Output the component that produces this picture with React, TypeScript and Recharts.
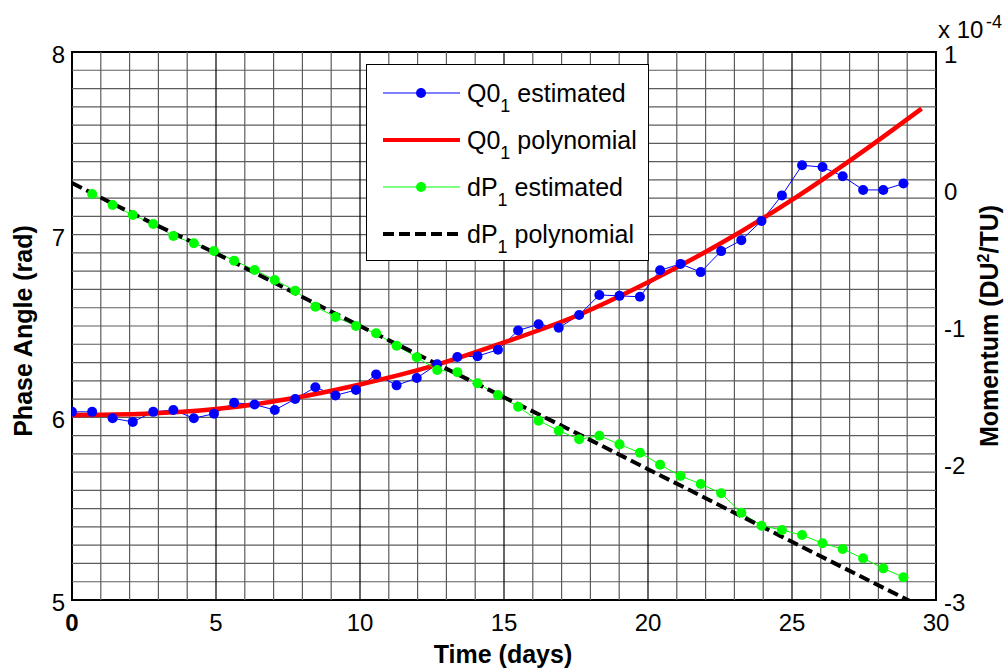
import React from 'react';
import {
  LineChart,
  Line,
  XAxis,
  YAxis,
  ReferenceLine,
  ReferenceArea,
} from 'recharts';

// Q0_1 / dP_1 estimation vs polynomial fit, MATLAB plotyy look

const FONT = '"Liberation Sans", Arial, sans-serif';

// sample days of the estimated points
const estDays = [
  0, 0.7, 1.41, 2.11, 2.82, 3.52, 4.23, 4.93, 5.63, 6.34,
  7.04, 7.75, 8.45, 9.15, 9.86, 10.56, 11.27, 11.97, 12.68, 13.38,
  14.08, 14.79, 15.49, 16.2, 16.9, 17.61, 18.31, 19.01, 19.72, 20.42,
  21.13, 21.83, 22.54, 23.24, 23.94, 24.65, 25.35, 26.06, 26.76, 27.47,
  28.17, 28.87,
];

// phase angle (rad), left axis
const q0Estimated = [
  6.03, 6.03, 5.995, 5.975, 6.03, 6.04, 5.995, 6.02, 6.08, 6.07,
  6.04, 6.1, 6.165, 6.12, 6.15, 6.235, 6.175, 6.215, 6.29, 6.33,
  6.335, 6.37, 6.475, 6.51, 6.49, 6.56, 6.67, 6.665, 6.66, 6.805,
  6.84, 6.795, 6.91, 6.97, 7.075, 7.215, 7.38, 7.37, 7.32, 7.245,
  7.245, 7.28,
];

// momentum in units of 1e-4 DU^2/TU, right axis
const dp1Estimated = [
  null, -0.036, -0.117, -0.19, -0.255, -0.343, -0.396, -0.453, -0.523, -0.591,
  -0.664, -0.742, -0.859, -0.934, -1.0, -1.053, -1.144, -1.228, -1.321, -1.338,
  -1.418, -1.504, -1.589, -1.691, -1.764, -1.827, -1.801, -1.864, -1.925, -2.012,
  -2.095, -2.153, -2.221, -2.363, -2.458, -2.489, -2.526, -2.586, -2.628, -2.696,
  -2.769, -2.834,
];

const polyDays = [0, 2.5, 5, 7.5, 10, 12.5, 15, 17.5, 20, 22.5, 25, 27.5, 29.5];
const q0Poly = [6.013, 6.02, 6.045, 6.1, 6.18, 6.28, 6.41, 6.555, 6.74, 6.95, 7.19, 7.46, 7.69];
const dp1Poly = [0.044, -0.22, -0.47, -0.735, -1.0, -1.26, -1.52, -1.78, -2.045, -2.31, -2.575, -2.84, -3.05];

const xTicks = [0, 5, 10, 15, 20, 25, 30];
const leftTicks = [5, 6, 7, 8];
const rightTicks = [-3, -2, -1, 0, 1];
const gridDays = [
  1, 2, 3, 4, 6, 7, 8, 9, 11, 12, 13, 14, 16, 17, 18, 19, 21, 22, 23, 24, 26, 27, 28, 29,
];
const majorDays = [5, 10, 15, 20, 25];
const gridPhase = [
  5.1, 5.2, 5.3, 5.4, 5.5, 5.6, 5.7, 5.8, 5.9, 6.0,
  6.1, 6.2, 6.3, 6.4, 6.5, 6.6, 6.7, 6.8, 6.9, 7.0,
  7.1, 7.2, 7.3, 7.4, 7.5, 7.6, 7.7, 7.8, 7.9,
];

const legendItems = [
  { name: 'Q0', tail: ' estimated', color: '#0000ff', width: 1, dash: undefined, dot: true },
  { name: 'Q0', tail: ' polynomial', color: '#ff0000', width: 4, dash: undefined, dot: false },
  { name: 'dP', tail: ' estimated', color: '#00ff00', width: 1, dash: undefined, dot: true },
  { name: 'dP', tail: ' polynomial', color: '#000000', width: 4, dash: '11 5', dot: false },
];

const q0EstData = estDays.map((x, i) => ({ x, v: q0Estimated[i] }));
const dp1EstData = estDays
  .map((x, i) => ({ x, v: dp1Estimated[i] }))
  .filter((p) => p.v !== null);
const q0PolyData = polyDays.map((x, i) => ({ x, v: q0Poly[i] }));
const dp1PolyData = polyDays.map((x, i) => ({ x, v: dp1Poly[i] }));

const GRID = '#5c5c5c';

function XTick({ x, y, payload }: any) {
  return (
    <text
      x={x}
      y={y + 31}
      textAnchor="middle"
      fontSize={24}
      fontFamily={FONT}
      fontWeight={payload.value === 0 ? 'bold' : 'normal'}
      fill="#000"
    >
      {payload.value}
    </text>
  );
}

function LeftTick({ x, y, payload }: any) {
  return (
    <text x={x - 7} y={y + 11} textAnchor="end" fontSize={24} fontFamily={FONT} fill="#000">
      {payload.value}
    </text>
  );
}

function RightTick({ x, y, payload }: any) {
  return (
    <text x={x + 8} y={y + 11} textAnchor="start" fontSize={24} fontFamily={FONT} fill="#000">
      {payload.value}
    </text>
  );
}

function LegendBox() {
  return (
    <div
      style={{
        position: 'absolute',
        left: 366,
        top: 64,
        width: 281,
        height: 195,
        background: '#fff',
        border: '1.5px solid #000',
      }}
    >
      <svg width={281} height={195}>
        {legendItems.map((it, i) => {
          const cy = 28 + i * 47;
          return (
            <g key={i}>
              <line
                x1={16}
                x2={93}
                y1={cy}
                y2={cy}
                stroke={it.color}
                strokeWidth={it.width}
                strokeDasharray={it.dash}
              />
              {it.dot && <circle cx={54} cy={cy} r={5} fill={it.color} />}
              <text x={100} y={cy + 9} fontSize={25} fontFamily={FONT} fill="#000">
                {it.name}
                <tspan dy={10} fontSize={18}>1</tspan>
                <tspan dy={-10}>{it.tail}</tspan>
              </text>
            </g>
          );
        })}
      </svg>
    </div>
  );
}

const titleStyle: React.CSSProperties = {
  position: 'absolute',
  fontFamily: FONT,
  fontWeight: 'bold',
  fontSize: 25,
  lineHeight: 1,
  whiteSpace: 'nowrap',
  color: '#000',
};

export default function App() {
  return (
    <div style={{ position: 'relative', width: 1007, height: 670, overflow: 'hidden', background: '#fff' }}>
      <style>{'body { margin: 0; }'}</style>
      <LineChart
        width={1007}
        height={670}
        margin={{ top: 52, right: 21, bottom: 30, left: 22 }}
      >
        <XAxis
          dataKey="x"
          type="number"
          domain={[0, 30]}
          ticks={xTicks}
          allowDataOverflow
          height={40}
          tickSize={0}
          tickMargin={0}
          axisLine={false}
          tick={<XTick />}
        />
        <YAxis
          yAxisId="left"
          domain={[5, 8]}
          ticks={leftTicks}
          allowDataOverflow
          width={50}
          tickSize={0}
          tickMargin={0}
          axisLine={false}
          tick={<LeftTick />}
        />
        <YAxis
          yAxisId="right"
          orientation="right"
          domain={[-3, 1]}
          ticks={rightTicks}
          allowDataOverflow
          width={50}
          tickSize={0}
          tickMargin={0}
          axisLine={false}
          tick={<RightTick />}
        />
        {gridPhase.map((v) => (
          <ReferenceLine key={'h' + v} yAxisId="left" y={v} stroke={GRID} strokeWidth={1.2} />
        ))}
        {gridDays.map((d) => (
          <ReferenceLine key={'v' + d} yAxisId="left" x={d} stroke={GRID} strokeWidth={1.2} />
        ))}
        {majorDays.map((d) => (
          <ReferenceLine key={'m' + d} yAxisId="left" x={d} stroke="#000" strokeWidth={1.2} />
        ))}
        <Line
          yAxisId="left"
          data={q0EstData}
          dataKey="v"
          type="linear"
          stroke="#0000ff"
          strokeWidth={1}
          dot={{ r: 5, fill: '#0000ff', stroke: '#0000ff', strokeWidth: 0 }}
          isAnimationActive={false}
        />
        <Line
          yAxisId="left"
          data={q0PolyData}
          dataKey="v"
          type="monotone"
          stroke="#ff0000"
          strokeWidth={4.5}
          dot={false}
          isAnimationActive={false}
        />
        <Line
          yAxisId="right"
          data={dp1EstData}
          dataKey="v"
          type="linear"
          stroke="#00ff00"
          strokeWidth={1}
          dot={{ r: 5, fill: '#00ff00', stroke: '#00ff00', strokeWidth: 0 }}
          isAnimationActive={false}
        />
        <Line
          yAxisId="right"
          data={dp1PolyData}
          dataKey="v"
          type="monotone"
          stroke="#000"
          strokeWidth={4}
          strokeDasharray="11 5"
          dot={false}
          isAnimationActive={false}
        />
        <ReferenceArea
          yAxisId="left"
          x1={0}
          x2={30}
          y1={5}
          y2={8}
          fill="none"
          fillOpacity={0}
          stroke="#000"
          strokeWidth={2}
        />
      </LineChart>
      <LegendBox />
      <div
        style={{
          ...titleStyle,
          left: 23,
          top: 331,
          transform: 'translate(-50%, -50%) rotate(-90deg)',
        }}
      >
        Phase Angle (rad)
      </div>
      <div
        style={{
          ...titleStyle,
          left: 989,
          top: 326,
          transform: 'translate(-50%, -50%) rotate(-90deg)',
        }}
      >
        Momentum (DU<sup style={{ fontSize: 16 }}>2</sup>/TU)
      </div>
      <div style={{ ...titleStyle, left: 503, top: 654, transform: 'translate(-50%, -50%)' }}>
        Time (days)
      </div>
      <div
        style={{
          position: 'absolute',
          left: 938,
          top: 18,
          fontFamily: FONT,
          fontSize: 24,
          lineHeight: 1,
          whiteSpace: 'nowrap',
        }}
      >
        x 10
      </div>
      <div
        style={{
          position: 'absolute',
          left: 986,
          top: 13,
          fontFamily: FONT,
          fontSize: 18,
          lineHeight: 1,
          whiteSpace: 'nowrap',
        }}
      >
        -4
      </div>
    </div>
  );
}
